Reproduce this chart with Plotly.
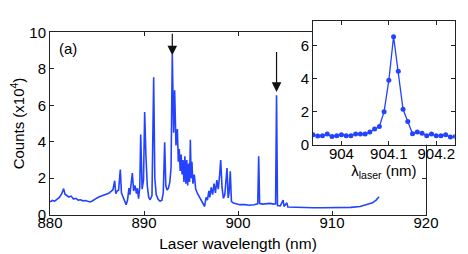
import plotly.graph_objects as go

# ---- main spectrum ----
wl = [880.0, 880.25, 880.5, 880.75, 881.0, 881.25, 881.45, 881.6, 881.8, 882.0,
      882.25, 882.5, 882.75, 883.0, 883.25, 883.5, 883.75, 884.0, 884.25, 884.5,
      884.75, 885.0, 885.25, 885.5, 885.75, 886.0, 886.25, 886.5, 886.7, 886.88,
      887.0, 887.15, 887.3, 887.48, 887.6, 887.75, 887.95, 888.1, 888.25, 888.4,
      888.5, 888.62, 888.76, 888.9, 889.05, 889.2, 889.3, 889.42, 889.55, 889.65,
      889.8, 889.95, 890.07, 890.2, 890.35, 890.5, 890.65, 890.85, 891.03, 891.15,
      891.3, 891.5, 891.7, 891.9, 892.05, 892.2, 892.32, 892.45, 892.6, 892.75,
      892.88, 893.01, 893.15, 893.26, 893.4, 893.55, 893.65, 893.75, 893.85, 893.95,
      894.05, 894.15, 894.25, 894.35, 894.45, 894.55, 894.65, 894.75, 894.85, 894.93,
      895.02, 895.1, 895.2, 895.35, 895.5, 895.7, 895.9, 896.1, 896.3, 896.45,
      896.6, 896.75, 896.9, 897.0, 897.15, 897.3, 897.45, 897.6, 897.75, 897.9,
      898.05, 898.16, 898.3, 898.45, 898.6, 898.83, 898.95, 899.05, 899.18, 899.3,
      899.5, 899.8, 900.2, 900.7, 901.2, 901.7, 902.1, 902.2, 902.3, 902.6,
      903.0, 903.4, 903.8, 904.0, 904.1, 904.2, 904.5, 904.8, 904.9, 905.2,
      905.3, 906.0, 907.0, 908.0, 909.0, 910.0, 911.0, 912.0, 913.0, 913.8,
      914.3, 914.7, 915.0]
counts = [0.70, 0.78, 0.74, 0.86, 0.95, 1.15, 1.43, 1.12, 1.05, 0.97,
          1.02, 0.86, 0.90, 0.80, 0.82, 0.76, 0.78, 0.72, 0.70, 0.75,
          0.86, 0.92, 0.98, 1.02, 1.06, 1.14, 1.18, 1.28, 1.37, 1.86,
          1.15, 1.30, 1.35, 2.47, 1.20, 1.00, 0.72, 0.55, 0.80, 1.46,
          1.10, 1.55, 2.28, 1.30, 1.60, 1.15, 1.45, 0.88, 1.50, 4.39,
          1.40, 1.90, 5.63, 3.30, 1.60, 0.95, 0.82, 1.05, 7.53, 2.00,
          1.10, 0.85, 0.75, 0.78, 1.20, 3.97, 1.60, 1.35, 1.45, 1.80,
          2.60, 8.80, 4.50, 6.82, 3.80, 4.70, 2.90, 3.60, 2.40, 3.30,
          2.20, 3.00, 1.80, 3.20, 1.70, 3.00, 1.60, 2.80, 1.80, 4.11,
          2.00, 2.90, 1.70, 2.20, 1.40, 1.15, 0.95, 0.75, 0.55, 0.45,
          0.95, 0.80, 1.30, 0.95, 1.50, 1.10, 1.70, 1.20, 1.90, 1.40,
          2.20, 3.00, 1.50, 0.90, 1.10, 2.56, 0.92, 1.20, 2.38, 0.73,
          0.64, 0.60, 0.55, 0.55, 0.52, 0.55, 0.60, 3.20, 0.62, 0.58,
          0.62, 0.62, 0.58, 0.60, 6.55, 0.50, 0.48, 0.80, 0.45, 0.65,
          0.42, 0.40, 0.38, 0.38, 0.38, 0.38, 0.40, 0.40, 0.45, 0.55,
          0.65, 0.80, 0.98]

# ---- inset: fine scan around 904.1 nm ----
wl_inset = [903.94, 903.95, 903.96, 903.97, 903.98, 903.99, 904.00, 904.01,
            904.02, 904.03, 904.04, 904.05, 904.06, 904.07, 904.08, 904.09,
            904.10, 904.11, 904.12, 904.13, 904.14, 904.15, 904.16, 904.17,
            904.18, 904.19, 904.20, 904.21, 904.22, 904.23, 904.24]
counts_inset = [0.60, 0.52, 0.55, 0.65, 0.50, 0.55, 0.60, 0.55,
                0.55, 0.65, 0.65, 0.65, 0.77, 0.95, 1.10, 2.00,
                3.90, 6.55, 4.45, 2.15, 1.40, 0.67, 0.77, 0.70,
                0.55, 0.65, 0.55, 0.55, 0.60, 0.47, 0.50]

main_xticks = [880, 890, 900, 910, 920]
main_yticks = [0, 2, 4, 6, 8, 10]
inset_xticks = [904, 904.1, 904.2]
inset_xticklabels = ["904", "904.1", "904.2"]
inset_yticks = [0, 2, 4, 6]

arrow_x = [893.01, 904.1]
arrow_tip = [8.74, 6.73]
arrow_tail = [10.0, 9.0]

BLUE = "#2443ff"
FONT = "Liberation Sans, Arial, sans-serif"
W, H = 468, 254

fig = go.Figure()
fig.add_trace(go.Scatter(x=wl, y=counts, mode="lines",
                         line=dict(color=BLUE, width=1.6),
                         xaxis="x", yaxis="y", showlegend=False))
fig.add_trace(go.Scatter(x=wl_inset, y=counts_inset, mode="lines+markers",
                         line=dict(color=BLUE, width=1.3),
                         marker=dict(color=BLUE, size=5),
                         xaxis="x2", yaxis="y2", showlegend=False))

axis_common = dict(showline=True, linecolor="#222", linewidth=1, mirror="ticks",
                   ticks="inside", ticklen=4, tickcolor="#222", showgrid=False,
                   zeroline=False, automargin=False,
                   tickfont=dict(family=FONT, size=15, color="black"))

fig.update_layout(
    width=W, height=H, template="none",
    margin=dict(l=0, r=0, t=0, b=0),
    paper_bgcolor="white", plot_bgcolor="white",
    font=dict(family=FONT, size=15, color="black"),
    xaxis=dict(domain=[42 / W, 418 / W], range=[880, 920], tickvals=main_xticks,
               anchor="y", ticklabelstandoff=-6,
               title=dict(text="Laser wavelength (nm)", font=dict(size=15.5), standoff=8),
               **axis_common),
    yaxis=dict(domain=[1 - 206.7 / H, 1 - 24.3 / H], range=[0, 10], tickvals=main_yticks,
               anchor="x",
               title=dict(text="Counts (x10<sup>4</sup>)", font=dict(size=15), standoff=6),
               **axis_common),
    xaxis2=dict(domain=[305 / W, 446.7 / W], range=[903.94, 904.239],
                tickvals=inset_xticks, ticktext=inset_xticklabels, anchor="y2",
                ticklabelstandoff=-5,
                title=dict(text="λ<sub>laser</sub> (nm)", font=dict(size=15), standoff=0),
                **axis_common),
    yaxis2=dict(domain=[1 - 136.7 / H, 1 - 13.3 / H], range=[0, 7.48],
                tickvals=inset_yticks, anchor="x2", **axis_common),
)

fig.add_annotation(x=880.7, y=9.1, xref="x", yref="y", text="(a)", showarrow=False,
                   xanchor="left", yanchor="middle",
                   font=dict(family=FONT, size=15, color="black"))
for xa, tip, tail in zip(arrow_x, arrow_tip, arrow_tail):
    fig.add_annotation(x=xa, y=tip, ax=xa, ay=tail, xref="x", yref="y",
                       axref="x", ayref="y", text="", showarrow=True,
                       arrowhead=2, arrowsize=1.6, arrowwidth=1.2,
                       arrowcolor="#111", standoff=0)

fig.write_html("out.html")
